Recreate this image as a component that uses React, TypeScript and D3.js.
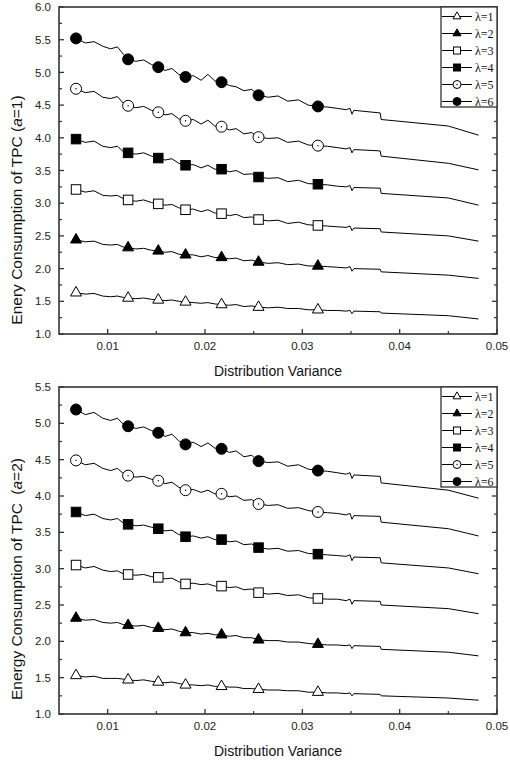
import * as d3 from 'd3'
import React from 'react'

// shared sample points along the x axis (distribution variance)
const xs = [
  0.00675, 0.0077, 0.0086, 0.0095, 0.0103, 0.011, 0.0116,
  0.0121, 0.0129, 0.0137, 0.0145,
  0.0152, 0.0159, 0.0166, 0.0173,
  0.018, 0.0188, 0.0196, 0.0203, 0.021,
  0.0217, 0.0225, 0.0232, 0.024, 0.0248,
  0.0255, 0.0265, 0.0275, 0.0285, 0.0296, 0.0306,
  0.0316, 0.0326, 0.0336, 0.0345, 0.0349, 0.0351, 0.0353, 0.038, 0.0381, 0.045, 0.0481
]
// x positions that carry a symbol
const markerX = [0.00675, 0.0121, 0.0152, 0.018, 0.0217, 0.0255, 0.0316]

const lambdaLabels = ['λ=1', 'λ=2', 'λ=3', 'λ=4', 'λ=5', 'λ=6']
const shapes = ['triangle-open', 'triangle', 'square-open', 'square', 'circle-open', 'circle']

// a = 1
const topL1 = [1.63, 1.61, 1.62, 1.58, 1.57, 1.58, 1.56, 1.55, 1.54, 1.55, 1.53, 1.52, 1.51, 1.52, 1.5, 1.49, 1.48, 1.47, 1.48, 1.46, 1.45, 1.44, 1.45, 1.42, 1.43, 1.41, 1.4, 1.41, 1.39, 1.39, 1.37, 1.37, 1.36, 1.36, 1.35, 1.36, 1.31, 1.35, 1.34, 1.32, 1.28, 1.23]
const topL2 = [2.44, 2.41, 2.42, 2.37, 2.36, 2.37, 2.33, 2.32, 2.3, 2.31, 2.28, 2.27, 2.25, 2.26, 2.22, 2.21, 2.21, 2.18, 2.2, 2.17, 2.17, 2.15, 2.16, 2.12, 2.13, 2.1, 2.08, 2.09, 2.06, 2.07, 2.04, 2.04, 2.03, 2.02, 2.01, 2.03, 1.96, 2.0, 1.99, 1.95, 1.9, 1.85]
const topL3 = [3.21, 3.17, 3.19, 3.12, 3.11, 3.12, 3.07, 3.05, 3.03, 3.05, 3.01, 2.99, 2.97, 2.98, 2.93, 2.9, 2.91, 2.87, 2.9, 2.85, 2.84, 2.81, 2.83, 2.78, 2.79, 2.75, 2.73, 2.74, 2.69, 2.71, 2.67, 2.66, 2.65, 2.64, 2.63, 2.65, 2.58, 2.62, 2.61, 2.56, 2.5, 2.42]
const topL4 = [3.98, 3.93, 3.95, 3.87, 3.85, 3.87, 3.79, 3.77, 3.75, 3.77, 3.72, 3.69, 3.66, 3.68, 3.61, 3.58, 3.59, 3.54, 3.58, 3.52, 3.52, 3.48, 3.5, 3.44, 3.45, 3.4, 3.38, 3.39, 3.33, 3.35, 3.3, 3.29, 3.28, 3.26, 3.25, 3.27, 3.19, 3.24, 3.23, 3.15, 3.08, 2.97]
const topL5 = [4.75, 4.69, 4.71, 4.62, 4.6, 4.63, 4.53, 4.49, 4.46, 4.48, 4.42, 4.39, 4.35, 4.37, 4.29, 4.26, 4.28, 4.21, 4.27, 4.18, 4.17, 4.12, 4.14, 4.06, 4.08, 4.01, 3.99, 4.0, 3.93, 3.95, 3.89, 3.88, 3.87, 3.85, 3.83, 3.85, 3.77, 3.82, 3.8, 3.72, 3.61, 3.51]
const topL6 = [5.52, 5.45, 5.47, 5.4, 5.36, 5.39, 5.28, 5.2, 5.17, 5.19, 5.12, 5.08, 5.03, 5.06, 4.97, 4.93, 4.95, 4.88, 4.97, 4.87, 4.85, 4.8, 4.78, 4.72, 4.74, 4.65, 4.62, 4.64, 4.56, 4.58, 4.5, 4.48, 4.47, 4.45, 4.43, 4.45, 4.36, 4.42, 4.38, 4.28, 4.18, 4.04]

// a = 2
const botL1 = [1.53, 1.51, 1.52, 1.49, 1.49, 1.49, 1.48, 1.47, 1.46, 1.47, 1.45, 1.44, 1.43, 1.44, 1.42, 1.4, 1.4, 1.39, 1.4, 1.38, 1.38, 1.37, 1.37, 1.35, 1.35, 1.34, 1.33, 1.33, 1.32, 1.32, 1.3, 1.3, 1.29, 1.29, 1.28, 1.29, 1.25, 1.28, 1.27, 1.25, 1.22, 1.19]
const botL2 = [2.32, 2.29, 2.3, 2.26, 2.25, 2.26, 2.23, 2.22, 2.21, 2.22, 2.19, 2.18, 2.16, 2.17, 2.14, 2.12, 2.12, 2.1, 2.11, 2.09, 2.09, 2.07, 2.08, 2.05, 2.05, 2.02, 2.01, 2.01, 1.99, 1.99, 1.97, 1.96, 1.95, 1.95, 1.94, 1.95, 1.9, 1.94, 1.93, 1.89, 1.85, 1.8]
const botL3 = [3.05, 3.01, 3.03, 2.98, 2.96, 2.97, 2.93, 2.92, 2.91, 2.92, 2.89, 2.88, 2.86, 2.87, 2.82, 2.79, 2.8, 2.78, 2.79, 2.76, 2.76, 2.74, 2.75, 2.71, 2.72, 2.67, 2.65, 2.66, 2.63, 2.64, 2.6, 2.59, 2.58, 2.58, 2.56, 2.58, 2.51, 2.56, 2.55, 2.5, 2.45, 2.38]
const botL4 = [3.78, 3.73, 3.75, 3.69, 3.67, 3.69, 3.63, 3.61, 3.59, 3.6, 3.57, 3.55, 3.52, 3.53, 3.47, 3.44, 3.45, 3.42, 3.44, 3.4, 3.4, 3.37, 3.38, 3.33, 3.34, 3.29, 3.27, 3.28, 3.24, 3.25, 3.21, 3.2, 3.19, 3.18, 3.17, 3.19, 3.11, 3.16, 3.15, 3.08, 3.01, 2.93]
const botL5 = [4.49, 4.43, 4.45, 4.38, 4.35, 4.38, 4.31, 4.28, 4.26, 4.27, 4.23, 4.21, 4.17, 4.19, 4.12, 4.08, 4.09, 4.05, 4.08, 4.03, 4.03, 3.99, 4.0, 3.94, 3.95, 3.89, 3.87, 3.88, 3.83, 3.84, 3.8, 3.78, 3.77, 3.76, 3.74, 3.76, 3.68, 3.73, 3.72, 3.64, 3.55, 3.45]
const botL6 = [5.19, 5.12, 5.15, 5.07, 5.04, 5.07, 4.99, 4.96, 4.93, 4.95, 4.9, 4.87, 4.82, 4.85, 4.76, 4.71, 4.74, 4.68, 4.73, 4.66, 4.65, 4.6, 4.62, 4.54, 4.56, 4.48, 4.46, 4.47, 4.41, 4.43, 4.37, 4.35, 4.34, 4.32, 4.3, 4.32, 4.24, 4.29, 4.27, 4.18, 4.08, 3.97]

const xTicks = [0.01, 0.02, 0.03, 0.04, 0.05]
const xMinorTicks = [0.015, 0.025, 0.035, 0.045]
const topYTicks = [1.0, 1.5, 2.0, 2.5, 3.0, 3.5, 4.0, 4.5, 5.0, 5.5, 6.0]
const botYTicks = [1.0, 1.5, 2.0, 2.5, 3.0, 3.5, 4.0, 4.5, 5.0, 5.5]

const SANS = 'Arial, "Liberation Sans", sans-serif'
const SERIF = '"Times New Roman", "Liberation Serif", serif'
const AXIS = '#333'

const Marker = ({ shape, cx, cy, s }) => {
  const filled = !shape.endsWith('open')
  const fill = filled ? '#000' : '#fff'
  if (shape.startsWith('triangle')) {
    const h = s * 0.866
    const pts = [
      [cx, cy - (h * 2) / 3],
      [cx - s / 2, cy + h / 3],
      [cx + s / 2, cy + h / 3]
    ].map((p) => p.join(',')).join(' ')
    return <polygon points={pts} fill={fill} stroke='#000' strokeWidth={1} />
  }
  if (shape.startsWith('square')) {
    return <rect x={cx - s / 2} y={cy - s / 2} width={s} height={s} fill={fill} stroke='#000' strokeWidth={1} />
  }
  return (
    <g>
      <circle cx={cx} cy={cy} r={s / 2} fill={fill} stroke='#000' strokeWidth={1} />
      {!filled && <circle cx={cx} cy={cy} r={0.7} fill='#000' />}
    </g>
  )
}

const Panel = ({ top, bottom, yTicks, series, yTitle, yTitleY }) => {
  const left = 59
  const right = 497
  const x = d3.scaleLinear().domain([0.005, 0.05]).range([left, right])
  const y = d3.scaleLinear().domain([1, yTicks[yTicks.length - 1]]).range([bottom, top])
  const line = d3.line<number>().x((_, i) => x(xs[i])).y((d) => y(d))
  const yMinor = yTicks.slice(1).map((t) => t - 0.25)

  const legTop = top
  const legLeft = 441

  return (
    <g>
      {/* data lines */}
      {series.map((vals, si) => (
        <path key={'l' + si} d={line(vals) || ''} fill='none' stroke='#000' strokeWidth={1} />
      ))}
      {/* symbols */}
      {series.map((vals, si) =>
        markerX.map((mx, mi) => {
          const idx = xs.indexOf(mx)
          return <Marker key={`m${si}-${mi}`} shape={shapes[si]} cx={x(mx)} cy={y(vals[idx])} s={shapes[si].startsWith('square') ? 9.5 : 11} />
        })
      )}

      {/* frame */}
      <rect x={left} y={top} width={right - left} height={bottom - top} fill='none' stroke={AXIS} strokeWidth={1.6} />

      {/* y ticks, left and right, pointing inward */}
      {yTicks.map((t) => (
        <g key={'yt' + t}>
          <line x1={left} x2={left + 5} y1={y(t)} y2={y(t)} stroke={AXIS} strokeWidth={1.3} />
          <line x1={right} x2={right - 5} y1={y(t)} y2={y(t)} stroke={AXIS} strokeWidth={1.3} />
          <text x={51} y={y(t)} dy='0.36em' textAnchor='end' fontSize={11.5} fontFamily={SANS} fill='#222'>
            {t.toFixed(1)}
          </text>
        </g>
      ))}
      {yMinor.map((t) => (
        <g key={'ym' + t}>
          <line x1={left} x2={left + 3} y1={y(t)} y2={y(t)} stroke={AXIS} strokeWidth={1.2} />
          <line x1={right} x2={right - 3} y1={y(t)} y2={y(t)} stroke={AXIS} strokeWidth={1.2} />
        </g>
      ))}

      {/* x ticks */}
      {xTicks.map((t) => (
        <g key={'xt' + t}>
          <line x1={x(t)} x2={x(t)} y1={bottom} y2={bottom - 5} stroke={AXIS} strokeWidth={1.3} />
          <text x={x(t)} y={bottom + 16} textAnchor='middle' fontSize={11.5} fontFamily={SANS} fill='#222'>
            {t.toFixed(2)}
          </text>
        </g>
      ))}
      {xMinorTicks.map((t) => (
        <line key={'xm' + t} x1={x(t)} x2={x(t)} y1={bottom} y2={bottom - 3} stroke={AXIS} strokeWidth={1.2} />
      ))}

      {/* axis titles */}
      <text x={(left + right) / 2} y={bottom + 42} textAnchor='middle' fontSize={14} fontFamily={SANS} fill='#111'>
        Distribution Variance
      </text>
      <text transform={`translate(22,${yTitleY}) rotate(-90)`} textAnchor='middle' fontSize={15.5} fontFamily={SANS} fill='#111'>
        {yTitle}
      </text>

      {/* legend */}
      <rect x={legLeft} y={legTop} width={right - legLeft} height={100} fill='#fff' stroke={AXIS} strokeWidth={1.3} />
      {lambdaLabels.map((lab, i) => {
        const ly = legTop + 9.5 + i * 17
        return (
          <g key={'lg' + i}>
            <line x1={legLeft + 1} x2={legLeft + 31} y1={ly} y2={ly} stroke='#000' strokeWidth={1} />
            <Marker shape={shapes[i]} cx={legLeft + 16} cy={ly} s={shapes[i].startsWith('square') ? 7 : 8} />
            <text x={legLeft + 34} y={ly} dy='0.35em' fontSize={12} fontFamily={SERIF} fill='#111'>
              {lab}
            </text>
          </g>
        )
      })}
    </g>
  )
}

export default function App() {
  const topSeries = [topL1, topL2, topL3, topL4, topL5, topL6]
  const botSeries = [botL1, botL2, botL3, botL4, botL5, botL6]
  return (
    <svg width={510} height={765} style={{ position: 'absolute', left: 0, top: 0, background: '#fff' }}>
      <Panel
        top={7}
        bottom={334}
        yTicks={topYTicks}
        series={topSeries}
        yTitleY={210}
        yTitle={
          <>
            Enery Consumption of TPC (<tspan fontStyle='italic'>a</tspan>=1)
          </>
        }
      />
      <Panel
        top={387}
        bottom={714}
        yTicks={botYTicks}
        series={botSeries}
        yTitleY={579}
        yTitle={
          <>
            Energy Consumption of TPC <tspan dx={4}>(</tspan>
            <tspan fontStyle='italic'>a</tspan>=2)
          </>
        }
      />
    </svg>
  )
}
